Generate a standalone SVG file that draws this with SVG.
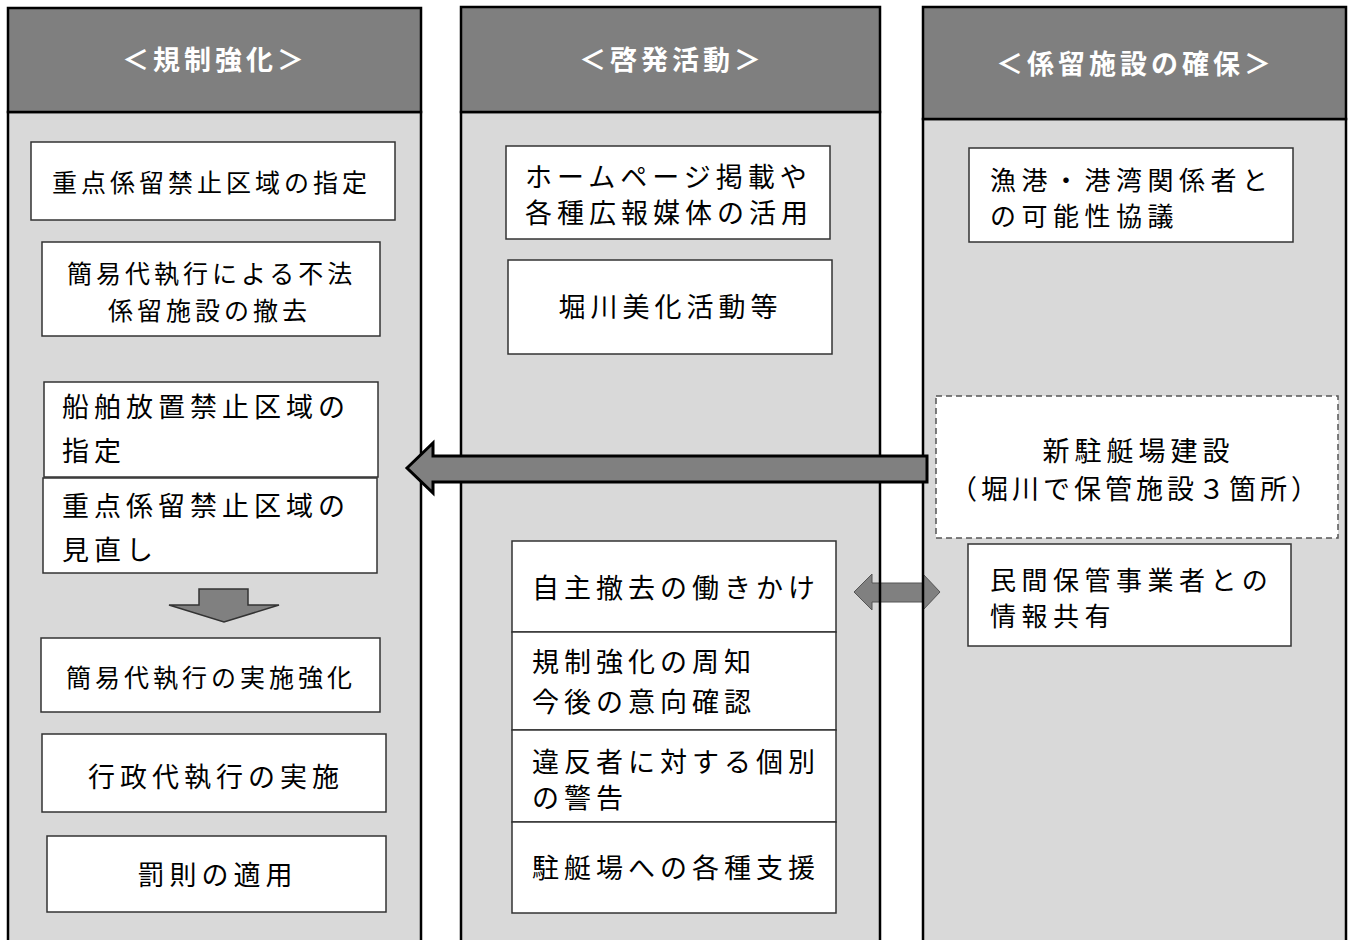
<svg xmlns="http://www.w3.org/2000/svg" width="1354" height="940" viewBox="0 0 1354 940">
<style>
text{font-family:"Noto Sans CJK JP","Noto Sans CJK SC",sans-serif;fill:#000}
.hd{fill:#7f7f7f;stroke:#000;stroke-width:2.5}
.bd{fill:#d9d9d9}
.bdl{fill:none;stroke:#000;stroke-width:2.5}
.bx{fill:#fff;stroke:#333;stroke-width:1.5}
.dash{fill:#fff;stroke:#555;stroke-width:1.5;stroke-dasharray:6 4}
.ht{font-size:27px;font-weight:bold;letter-spacing:4px;fill:#fff}
.a{font-size:27px;letter-spacing:5px}
.b{font-size:25px;letter-spacing:4px}
.c{font-size:27px;letter-spacing:4px}
.d{font-size:26px;letter-spacing:5.5px}
</style>
<rect width="1354" height="940" fill="#fff"/>
<rect class="bd" x="8" y="112" width="413" height="840"/>
<rect class="bd" x="461" y="112" width="419" height="840"/>
<rect class="bd" x="923" y="119" width="423" height="840"/>
<g id="connectors">
<polygon id="dbl-arrow" points="854,592 872,574 872,583 923,583 923,574 940,592 923,610 923,602 872,602 872,610" fill="#808080" stroke="#555" stroke-width="1"/>
</g>
<g id="col-regulation">
<rect class="bdl" x="8" y="112" width="413" height="840"/>
<rect class="hd" x="8" y="8" width="413" height="104"/>
<text class="ht" x="122" y="70">＜規制強化＞</text>
</g>
<g id="col-awareness">
<rect class="bdl" x="461" y="112" width="419" height="840"/>
<rect class="hd" x="461" y="7" width="419" height="105"/>
<text class="ht" x="579" y="70">＜啓発活動＞</text>
</g>
<g id="col-facility">
<rect class="bdl" x="923" y="119" width="423" height="840"/>
<rect class="hd" x="923" y="7" width="423" height="112"/>
<text class="ht" x="996" y="74">＜係留施設の確保＞</text>
</g>
<g id="n-l1"><rect class="bx" x="31" y="142" width="364" height="78"/><text class="b" x="52" y="191.5">重点係留禁止区域の指定</text></g>
<g id="n-l2"><rect class="bx" x="42" y="242" width="338" height="94"/><text class="b" x="67" y="283">簡易代執行による不法</text><text class="b" x="108" y="320">係留施設の撤去</text></g>
<g id="n-l3"><rect class="bx" x="44" y="382" width="334" height="95"/><text class="a" x="62" y="417">船舶放置禁止区域の</text><text class="a" x="62" y="461">指定</text></g>
<g id="n-l4"><rect class="bx" x="43" y="478" width="334" height="95"/><text class="a" x="62" y="516">重点係留禁止区域の</text><text class="a" x="62" y="560">見直し</text></g>
<g id="n-l5"><rect class="bx" x="41" y="638" width="339" height="74"/><text class="b" x="66" y="686.5">簡易代執行の実施強化</text></g>
<g id="n-l6"><rect class="bx" x="42" y="734" width="344" height="78"/><text class="a" x="88" y="787">行政代執行の実施</text></g>
<g id="n-l7"><rect class="bx" x="47" y="836" width="339" height="76"/><text class="a" x="137.5" y="885">罰則の適用</text></g>
<g id="n-m1"><rect class="bx" x="506" y="146" width="324" height="93"/><text class="a" x="525" y="187">ホームページ掲載や</text><text class="a" x="525" y="223">各種広報媒体の活用</text></g>
<g id="n-m2"><rect class="bx" x="508" y="260" width="324" height="94"/><text class="a" x="558.5" y="317">堀川美化活動等</text></g>
<g id="n-m3"><rect class="bx" x="512" y="541" width="324" height="91"/><text class="a" x="532" y="598">自主撤去の働きかけ</text></g>
<g id="n-m4"><rect class="bx" x="512" y="632" width="324" height="98"/><text class="a" x="532" y="672">規制強化の周知</text><text class="a" x="532" y="712">今後の意向確認</text></g>
<g id="n-m5"><rect class="bx" x="512" y="730" width="324" height="92"/><text class="a" x="532" y="772">違反者に対する個別</text><text class="a" x="532" y="808">の警告</text></g>
<g id="n-m6"><rect class="bx" x="512" y="822" width="324" height="91"/><text class="a" x="532" y="878">駐艇場への各種支援</text></g>
<g id="n-r1"><rect class="bx" x="969" y="148" width="324" height="94"/><text class="d" x="990" y="190">漁港・港湾関係者と</text><text class="d" x="990" y="226">の可能性協議</text></g>
<g id="n-r2"><rect class="dash" x="936" y="396" width="402" height="142"/><text class="a" x="1042.5" y="461">新駐艇場建設</text><text class="c" x="950" y="499">（堀川で保管施設３箇所）</text></g>
<g id="n-r3"><rect class="bx" x="968" y="544" width="323" height="102"/><text class="d" x="990" y="590">民間保管事業者との</text><text class="d" x="990" y="626">情報共有</text></g>
<g id="connectors-top">
<polygon id="down-arrow" points="199,589 248,589 248,605 279,605 224,622 169,605 199,605" fill="#808080" stroke="#333" stroke-width="1.5"/>
<polygon id="big-arrow" points="407,468 433,443 433,456 927,456 927,482 433,482 433,493" fill="#808080" stroke="#000" stroke-width="3"/>
</g>
</svg>
